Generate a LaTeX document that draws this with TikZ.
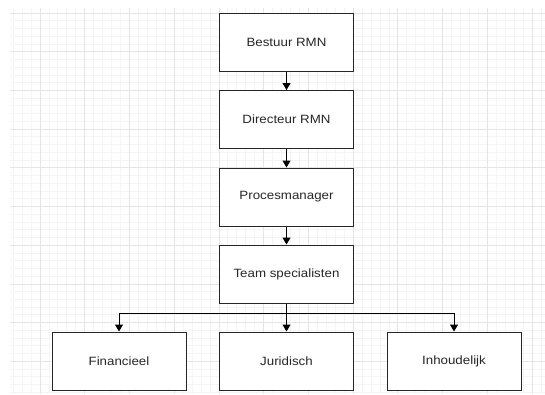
\documentclass[tikz,border=0pt]{standalone}
\usepackage{fontspec}
\setmainfont{Liberation Sans}[FakeStretch=1.11]
\usetikzlibrary{arrows.meta}

\begin{document}
\begin{tikzpicture}[x=1pt,y=-1pt,
    box/.style={draw=black!85, line width=1pt, fill=white, minimum width=134pt,
      minimum height=58pt, inner sep=0pt, text=black!85,
      font=\fontsize{12pt}{14pt}\selectfont},
    arr/.style={draw=black, line width=1pt, -{Triangle[width=8pt,length=7pt]}}]
    \useasboundingbox (0,0) rectangle (545,394);
    % background grid
    \begin{scope}
    \clip (10,8) rectangle (545,394);
    \fill[white] (10,8) rectangle (545,394);
    \foreach \i in {-3,...,56}
      \draw[gray!9, line width=0.8pt] ({40+\i*8.946},8) -- ({40+\i*8.946},394);
    \foreach \j in {0,...,49}
      \draw[gray!9, line width=0.8pt] (10,{13+\j*7.74}) -- (545,{13+\j*7.74});
    \foreach \i in {0,...,11}
      \draw[gray!20, line width=0.8pt] ({40+\i*44.73},8) -- ({40+\i*44.73},394);
    \foreach \j in {0,...,9}
      \draw[gray!20, line width=0.8pt] (10,{13+\j*38.7}) -- (545,{13+\j*38.7});
    \end{scope}

    \node[box] (A) at (286.5,42) {Bestuur RMN};
    \node[box] (B) at (286.5,119.5) {Directeur RMN};
    \node[box] (C) at (286.5,197) {Procesmanager};
    \node[box] (D) at (286.5,274) {Team specialisten};
    \node[box] (F) at (119,361) {Financieel};
    \node[box] (J) at (286.5,361) {Juridisch};
    \node[box] (I) at (454,361) {Inhoudelijk};
    \coordinate (S) at (286.5,313);

    \draw[arr] (A) -- (B);
    \draw[arr] (B) -- (C);
    \draw[arr] (C) -- (D);
    \draw[line width=1pt] (D) -- (S);
    \draw[arr] (S) -| (F);
    \draw[arr] (S) -- (J);
    \draw[arr] (S) -| (I);
\end{tikzpicture}
\end{document}
